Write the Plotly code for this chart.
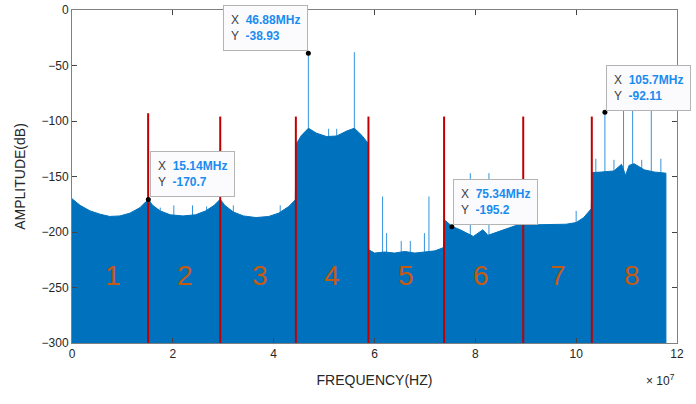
import plotly.graph_objects as go

# spectrum envelope (frequency in Hz, amplitude in dB)
env_f = [0, 0.16e7, 0.36e7, 0.56e7, 0.75e7, 0.95e7, 1.15e7, 1.35e7, 1.47e7, 1.514e7,
         1.6e7, 1.75e7, 1.95e7, 2.2e7, 2.45e7, 2.65e7, 2.82e7, 2.94e7,
         3.03e7, 3.2e7, 3.4e7, 3.65e7, 3.9e7, 4.1e7, 4.3e7, 4.43e7,
         4.445e7, 4.55e7, 4.69e7, 4.85e7, 5.05e7, 5.25e7, 5.45e7, 5.6e7, 5.75e7, 5.87e7,
         5.885e7, 6.0e7, 6.2e7, 6.4e7, 6.6e7, 6.8e7, 7.0e7, 7.2e7, 7.37e7,
         7.385e7, 7.54e7, 7.7e7, 7.96e7, 8.1e7, 8.15e7, 8.25e7, 8.45e7, 8.7e7, 8.94e7,
         9.2e7, 9.5e7, 9.8e7, 10.0e7, 10.15e7, 10.3e7,
         10.315e7, 10.5e7, 10.75e7, 10.9e7, 10.98e7, 11.05e7, 11.15e7, 11.35e7, 11.55e7, 11.78e7]
env_db = [-170, -176, -181, -184, -186, -185.5, -183, -178, -172.5, -170.7,
          -176, -181, -184.5, -185.5, -184.5, -181, -176, -170.5,
          -176, -182, -185.5, -187, -186, -183, -177, -171,
          -121, -113, -106.5, -111, -114, -113.5, -109, -106.5, -113, -120,
          -216, -219, -218, -219, -217.5, -219, -218, -217, -214,
          -189, -195, -198, -204, -200, -198, -203, -200, -196, -192,
          -193.5, -193.5, -193, -191.5, -187, -179,
          -146.5, -146, -145, -139, -149, -140, -138.5, -144, -146, -147]

# narrow tones standing above the envelope
spike_f = [1.75e7, 2.02e7, 2.39e7, 2.67e7, 3.2e7, 4.13e7,
           4.688e7, 5.09e7, 5.25e7, 5.6e7,
           6.16e7, 6.24e7, 6.53e7, 6.71e7, 6.99e7, 7.08e7,
           7.9e7, 8.27e7, 10.0e7,
           10.39e7, 10.57e7, 10.75e7, 10.94e7, 11.12e7, 11.3e7, 11.49e7, 11.68e7]
spike_db = [-178, -176, -176, -177, -176, -176,
            -38.93, -107, -107, -38,
            -168, -201, -208, -208, -201, -168,
            -147, -147, -181,
            -134, -92.11, -135, -90.4, -90.4, -135, -90.4, -134]

# band edges (red lines)
band_edges = [1.51e7, 2.94e7, 4.44e7, 5.88e7, 7.38e7, 8.95e7, 10.31e7]
band_tops = [-93, -96, -96, -96, -96, -96, -96]

# band numbers
band_names = ['1', '2', '3', '4', '5', '6', '7', '8']
band_centers = [0.82e7, 2.24e7, 3.72e7, 5.15e7, 6.62e7, 8.12e7, 9.63e7, 11.1e7]

# data tips
tip_f = [15.14e6, 46.88e6, 75.34e6, 105.7e6]
tip_db = [-170.7, -38.93, -195.2, -92.11]
tip_xtext = ['15.14MHz', '46.88MHz', '75.34MHz', '105.7MHz']
tip_ytext = ['-170.7', '-38.93', '-195.2', '-92.11']

fig = go.Figure()

# spikes drawn first so the fill covers their lower part
sx, sy = [], []
for f, d in zip(spike_f, spike_db):
    sx += [f, f, None]
    sy += [-300, d, None]
fig.add_trace(go.Scatter(x=sx, y=sy, mode='lines',
                         line=dict(color='#3593dc', width=1), hoverinfo='skip'))

# floor + filled envelope
fig.add_trace(go.Scatter(x=[0, env_f[-1]], y=[-300, -300], mode='lines',
                         line=dict(width=0), hoverinfo='skip'))
fig.add_trace(go.Scatter(x=env_f, y=env_db, mode='lines', fill='tonexty',
                         fillcolor='#0072BD', line=dict(color='#0072BD', width=1)))
fig.add_trace(go.Scatter(x=[env_f[-1], env_f[-1]], y=[env_db[-1], -300], mode='lines',
                         line=dict(color='#0072BD', width=1)))

# red band edges
rx, ry = [], []
for f, t in zip(band_edges, band_tops):
    rx += [f, f, None]
    ry += [-300, t, None]
fig.add_trace(go.Scatter(x=rx, y=ry, mode='lines',
                         line=dict(color='#c00000', width=2), hoverinfo='skip'))

# data tip markers
fig.add_trace(go.Scatter(x=tip_f, y=tip_db, mode='markers',
                         marker=dict(color='black', size=5)))

# band numbers
for name, c in zip(band_names, band_centers):
    fig.add_annotation(x=c, y=-239, text=name, showarrow=False,
                       font=dict(family='Liberation Sans', size=28, color='#c55a11'))

# data tip boxes
tip_pos = [('left', 'bottom', 2, 2), ('right', 'bottom', 0, 2),
           ('left', 'bottom', 1, 2), ('left', 'bottom', 1, 1)]
for f, d, xt, yt, (xa, ya, xs, ys) in zip(tip_f, tip_db, tip_xtext, tip_ytext, tip_pos):
    txt = ("<span style='color:#404040'>X</span>  <span style='color:#1a8cf0'><b>" + xt +
           "</b></span><br><span style='color:#404040'>Y</span>  <span style='color:#1a8cf0'><b>" +
           yt + "</b></span>")
    fig.add_annotation(x=f, y=d, text=txt, showarrow=False, align='left',
                       xanchor=xa, yanchor=ya, xshift=xs, yshift=ys,
                       bgcolor='#fbfbfe', bordercolor='#b4b4b4', borderwidth=1, borderpad=7,
                       font=dict(family='Liberation Sans', size=12))

# exponent label
fig.add_annotation(x=1, y=-0.08, xref='paper', yref='paper', text='× 10<sup>7</sup>',
                   showarrow=False, xanchor='right', yanchor='top',
                   font=dict(family='Liberation Sans', size=12, color='#262626'))

fig.update_xaxes(range=[0, 12e7], tickvals=[0, 2e7, 4e7, 6e7, 8e7, 10e7, 12e7],
                 ticktext=['0', '2', '4', '6', '8', '10', '12'],
                 ticks='inside', ticklen=5, mirror='ticks', showline=True,
                 linecolor='#808080', linewidth=1, showgrid=False, zeroline=False,
                 automargin=False, title=dict(text='FREQUENCY(HZ)', standoff=14))
fig.update_yaxes(range=[-300, 0], dtick=50, ticks='inside', ticklen=5, mirror='ticks',
                 showline=True, linecolor='#808080', linewidth=1, showgrid=False,
                 zeroline=False, automargin=False,
                 title=dict(text='AMPLITUDE(dB)', standoff=12))

fig.update_layout(width=696, height=404, showlegend=False,
                  plot_bgcolor='white', paper_bgcolor='white',
                  margin=dict(l=72, r=19, t=10, b=61),
                  font=dict(family='Liberation Sans', size=12, color='#262626'))

# drop the page's default body margin so the figure sits at the window corner
fig.write_html("out.html", config={'displayModeBar': False},
               post_script="document.body.style.margin='0px';")
